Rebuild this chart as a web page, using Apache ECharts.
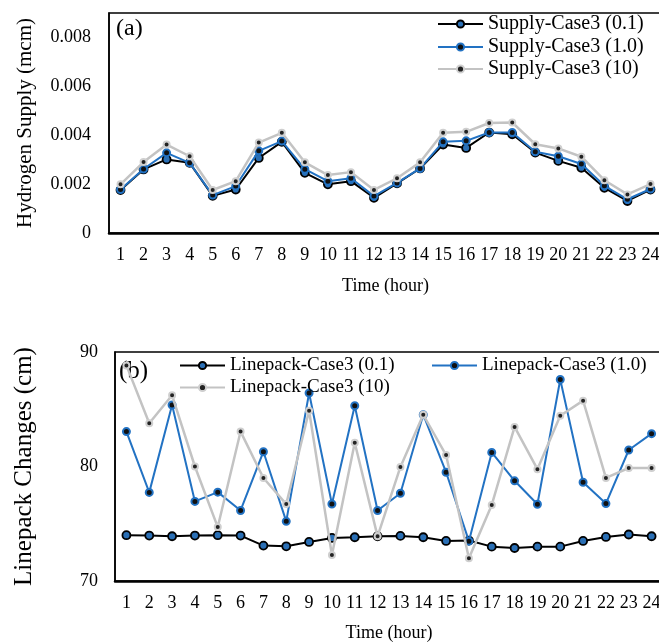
<!DOCTYPE html>
<html>
<head>
<meta charset="utf-8">
<script src="https://cdn.jsdelivr.net/npm/echarts@6/dist/echarts.min.js"></script>
<style>html,body{margin:0;padding:0;background:#fff;overflow:hidden;width:659px;height:644px}#c{width:680px;height:644px}</style>
</head>
<body>
<div id="c"></div>
<script>
var hours = ['1','2','3','4','5','6','7','8','9','10','11','12','13','14','15','16','17','18','19','20','21','22','23','24'];

var supplyNames = ['Supply-Case3 (0.1)', 'Supply-Case3 (1.0)', 'Supply-Case3 (10)'];
var supply01 = [0.00176,0.00260,0.00301,0.00287,0.00152,0.00178,0.00307,0.00373,0.00246,0.00199,0.00212,0.00144,0.00203,0.00264,0.00362,0.00348,0.00411,0.00404,0.00329,0.00295,0.00267,0.00185,0.00131,0.00178];
var supply10 = [0.00178,0.00262,0.00328,0.00287,0.00155,0.00192,0.00336,0.00376,0.00261,0.00212,0.00224,0.00151,0.00205,0.00264,0.00373,0.00377,0.00411,0.00411,0.00332,0.00314,0.00282,0.00193,0.00138,0.00180];
var supply100 = [0.00199,0.00290,0.00362,0.00314,0.00176,0.00212,0.00370,0.00410,0.00289,0.00237,0.00249,0.00176,0.00224,0.00289,0.00410,0.00414,0.00450,0.00452,0.00363,0.00346,0.00312,0.00216,0.00158,0.00200];
var supplyTicks = {min: 0, max: 0.009, interval: 0.002};

var lpNames = ['Linepack-Case3 (0.1)', 'Linepack-Case3 (1.0)', 'Linepack-Case3 (10)'];
var lp01 = [74.00,73.97,73.91,73.97,74.00,73.97,73.09,73.03,73.41,73.76,73.82,73.91,73.94,73.82,73.50,73.53,73.00,72.88,73.00,73.00,73.50,73.85,74.06,73.91];
var lp10 = [83.05,77.74,85.37,76.95,77.76,76.16,81.29,75.21,86.42,76.72,85.31,76.16,77.66,84.52,79.50,73.48,81.23,78.75,76.70,87.60,78.62,76.76,81.44,82.87];
var lp100 = [88.83,83.78,86.22,80.00,74.71,83.05,79.00,76.72,84.87,72.26,82.08,73.90,79.96,84.52,81.00,71.98,76.64,83.46,79.77,84.43,85.75,79.00,79.87,79.87];
var lpTicks = {min: 70, max: 90, interval: 10};

var FONT = '"Liberation Serif", "Times New Roman", serif';
var BLUE = '#2272c3', GRAY = '#c3c3c3', BLACK = '#000';

function styles(idx){
  if (idx === 0) return {
    lineStyle: {color: BLACK, width: 2},
    itemStyle: {color: '#2a6fb5', borderColor: BLACK, borderWidth: 1.8},
    symbolSize: 8
  };
  if (idx === 1) return {
    lineStyle: {color: BLUE, width: 2},
    itemStyle: {color: '#111', borderColor: BLUE, borderWidth: 2},
    symbolSize: 7
  };
  return {
    lineStyle: {color: GRAY, width: 2.5},
    itemStyle: {color: '#222', borderColor: '#cfcfcf', borderWidth: 2},
    symbolSize: 6
  };
}

function mkSeries(name, data, idx, gi){
  var s = styles(idx);
  return {
    type: 'line', name: name, data: data, xAxisIndex: gi, yAxisIndex: gi,
    symbol: 'circle', symbolSize: s.symbolSize, showSymbol: true,
    lineStyle: s.lineStyle, itemStyle: s.itemStyle, animation: false, z: 2 + idx
  };
}

function legend(name, left, top, fs){
  return {
    data: [name], left: left, top: top, orient: 'horizontal',
    itemWidth: 45, itemHeight: 9, itemGap: 5,
    textStyle: {fontFamily: FONT, fontSize: fs, color: '#000'},
    padding: 0
  };
}

var option = {
  backgroundColor: '#fff',
  animation: false,
  grid: [
    {left: 109, top: 13, width: 553, height: 220, show: true, borderColor: '#000', borderWidth: 1.5},
    {left: 115, top: 352, width: 548, height: 229, show: true, borderColor: '#000', borderWidth: 1.5}
  ],
  xAxis: [
    {type: 'category', gridIndex: 0, data: hours, boundaryGap: true,
     axisLine: {lineStyle: {color: '#000', width: 2.5}}, axisTick: {show: false},
     axisLabel: {fontFamily: FONT, fontSize: 18, color: '#000', margin: 13, interval: 0},
     name: 'Time (hour)', nameLocation: 'middle', nameGap: 44,
     nameTextStyle: {fontFamily: FONT, fontSize: 18, color: '#000'}},
    {type: 'category', gridIndex: 1, data: hours, boundaryGap: true,
     axisLine: {lineStyle: {color: '#000', width: 2.5}}, axisTick: {show: false},
     axisLabel: {fontFamily: FONT, fontSize: 18, color: '#000', margin: 13, interval: 0},
     name: 'Time (hour)', nameLocation: 'middle', nameGap: 43,
     nameTextStyle: {fontFamily: FONT, fontSize: 18, color: '#000'}}
  ],
  yAxis: [
    {type: 'value', gridIndex: 0, min: supplyTicks.min, max: supplyTicks.max, interval: supplyTicks.interval,
     axisLine: {show: true, lineStyle: {color: '#000', width: 1.5}}, axisTick: {show: false},
     splitLine: {show: false},
     axisLabel: {fontFamily: FONT, fontSize: 18, color: '#000', margin: 18, showMaxLabel: false,
       formatter: function(v){ return v === 0 ? '0' : v.toFixed(3); }},
     name: 'Hydrogen Supply (mcm)', nameLocation: 'middle', nameGap: 73,
     nameTextStyle: {fontFamily: FONT, fontSize: 21, color: '#000'}},
    {type: 'value', gridIndex: 1, min: lpTicks.min, max: lpTicks.max, interval: lpTicks.interval,
     axisLine: {show: true, lineStyle: {color: '#000', width: 1.5}}, axisTick: {show: false},
     splitLine: {show: false},
     axisLabel: {fontFamily: FONT, fontSize: 18, color: '#000', margin: 17},
     name: 'Linepack Changes (cm)', nameLocation: 'middle', nameGap: 78,
     nameTextStyle: {fontFamily: FONT, fontSize: 25, color: '#000'}}
  ],
  legend: [
    legend(supplyNames[0], 437, 14, 20),
    legend(supplyNames[1], 437, 37, 20),
    legend(supplyNames[2], 437, 59, 20),
    legend(lpNames[0], 179, 356, 19),
    legend(lpNames[1], 431, 356, 19),
    legend(lpNames[2], 179, 378, 19)
  ],
  graphic: [
    {type: 'text', left: 116, top: 17, style: {text: '(a)', font: '24px ' + FONT, fill: '#000'}},
    {type: 'text', left: 119, top: 359, style: {text: '(b)', font: '25px ' + FONT, fill: '#000'}}
  ],
  series: [
    mkSeries(supplyNames[0], supply01, 0, 0),
    mkSeries(supplyNames[1], supply10, 1, 0),
    mkSeries(supplyNames[2], supply100, 2, 0),
    mkSeries(lpNames[0], lp01, 0, 1),
    mkSeries(lpNames[1], lp10, 1, 1),
    mkSeries(lpNames[2], lp100, 2, 1)
  ]
};

var chart = echarts.init(document.getElementById('c'), null, {renderer: 'canvas', width: 680, height: 644});
chart.setOption(option);
</script>
</body>
</html>
